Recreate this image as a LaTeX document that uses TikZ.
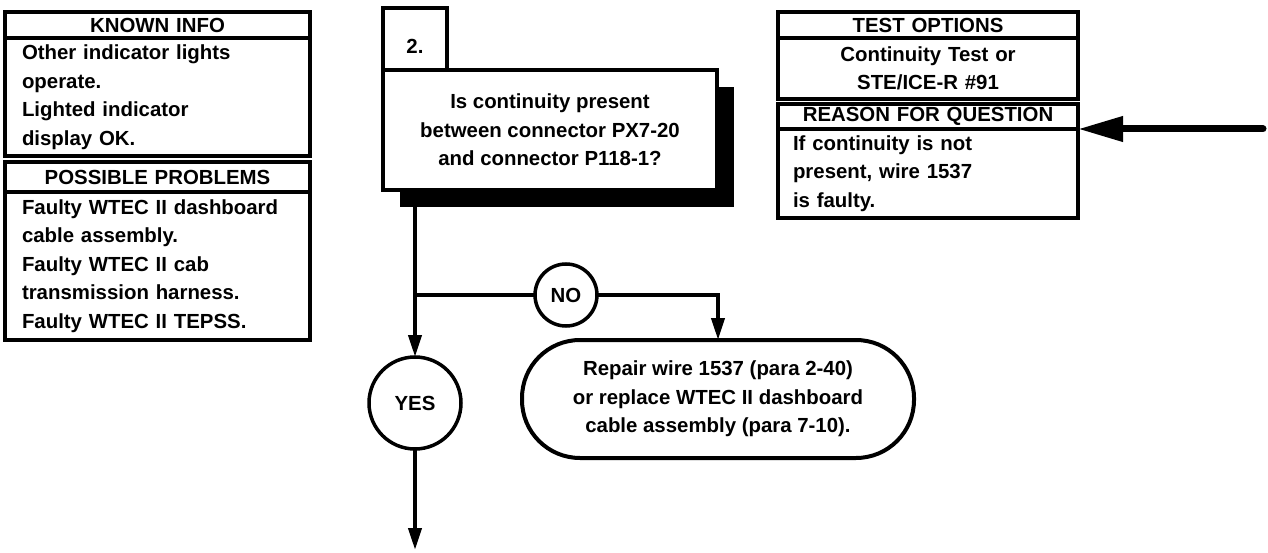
\documentclass[tikz,border=0pt]{standalone}
\usepackage{fontspec}
\setmainfont{Liberation Sans}
\usepackage{tikz}
\usetikzlibrary{arrows.meta, positioning, shadows}
\definecolor{myink}{RGB}{0,0,0}
\newcommand{\boxfont}{\fontsize{20.4pt}{28.5pt}\selectfont\bfseries}
\tikzset{
  panel/.style={rectangle, draw=myink, fill=white, line width=4pt,
    inner ysep=0pt, outer sep=0pt, font=\boxfont},
  hdr/.style={panel, align=center, minimum height=#1},
  info/.style={panel, align=left, minimum height=#1},
  leftw/.style={text width=271pt, inner xsep=17pt},
  rightw/.style={text width=270pt, inner xsep=15pt},
  qbox/.style={panel, align=center, minimum width=334pt, minimum height=120pt,
    drop shadow={shadow xshift=17pt, shadow yshift=-17pt, fill=myink, opacity=1}},
  ring/.style={circle, draw=myink, fill=white, line width=3.5pt, inner sep=0pt,
    outer sep=0pt, font=\boxfont},
  endbox/.style={rectangle, draw=myink, rounded corners=58pt, line width=4pt,
    minimum width=392pt, minimum height=118pt, outer sep=0pt, align=center,
    font=\boxfont},
  line/.style={line width=4pt, color=myink},
  arrow/.style={-{Triangle[length=22pt,width=13pt]}, line width=4pt, color=myink},
  bigarrow/.style={-{Triangle[length=45pt,width=24pt]}, line width=7pt,
    line cap=round, color=myink}
}
\begin{document}
\begin{tikzpicture}[x=1pt, y=-1pt]
  \useasboundingbox (0,0) rectangle (1268,553);
  % Known info / possible problems
  \node[hdr=26pt, leftw, anchor=north west] (known_hdr) at (5,12) {KNOWN INFO};
  \node[info=118pt, leftw, below=0pt of known_hdr] (known_body)
    {Other indicator lights\\operate.\\Lighted indicator\\display OK.};
  \node[hdr=30pt, leftw, below=6pt of known_body] (prob_hdr) {POSSIBLE PROBLEMS};
  \node[info=148pt, leftw, below=0pt of prob_hdr] (prob_body)
    {Faulty WTEC II dashboard\\cable assembly.\\Faulty WTEC II cab\\transmission harness.\\Faulty WTEC II TEPSS.};
  % Test options / reason for question
  \node[hdr=26pt, rightw, anchor=north west] (test_hdr) at (778,12) {TEST OPTIONS};
  \node[hdr=61pt, rightw, below=0pt of test_hdr] (test_body)
    {Continuity Test or\\STE/ICE-R \#91};
  \node[hdr=25pt, rightw, below=5pt of test_body] (reason_hdr) {REASON FOR QUESTION};
  \node[info=89pt, rightw, below=0pt of reason_hdr] (reason_body)
    {If continuity is not\\present, wire 1537\\is faulty.};
  % Question
  \node[panel, minimum width=64pt, minimum height=62pt, text height=30pt,
    text depth=0pt, anchor=north west] (step_no) at (383,8) {2.};
  \node[qbox, anchor=north west] (quest) at (383,70)
    {Is continuity present\\between connector PX7-20\\and connector P118-1?};
  % Answers
  \node[ring, minimum size=62pt] (no) at (566,295) {NO};
  \node[ring, minimum size=92pt] (yes) at (415,403) {YES};
  \node[endbox] (repair) at (718,399)
    {Repair wire 1537 (para 2-40)\\or replace WTEC II dashboard\\cable assembly (para 7-10).};
  \coordinate (split) at (yes |- no);
  \coordinate (yes_out) at (415,550);
  \coordinate (feed) at (1263,129);
  % Connectors
  \draw[line] (yes |- quest.south) -- (split);
  \draw[arrow] (split) -- (yes);
  \draw[line] (split) -- (no);
  \draw[arrow] (no) -| (repair);
  \draw[arrow] (yes) -- (yes_out);
  \draw[bigarrow] (feed) -- (reason_hdr.south east);
\end{tikzpicture}
\end{document}
